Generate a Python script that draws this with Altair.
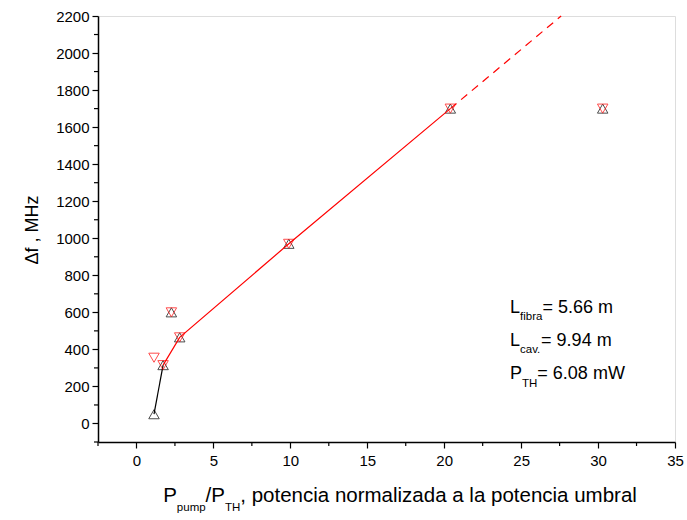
import altair as alt
import pandas as pd

# Measured points: normalised pump power vs. beat-note width
p_norm = [1.14, 1.73, 2.27, 2.81, 9.9, 20.4, 30.3]
df_up = [50, 315, 600, 465, 970, 1700, 1700]      # open black triangles
df_down = [355, 315, 600, 465, 970, 1700, 1700]   # open red triangles

# Connecting lines
black_x = [1.14, 1.73]
black_y = [50, 315]
red_x = [1.73, 2.81, 9.9, 20.4]
red_y = [315, 465, 970, 1700]
trend_x = [20.4, 27.6]
trend_y = [1700, 2200]

x_major = [0, 5, 10, 15, 20, 25, 30, 35]
x_minor = [-2.5, 2.5, 7.5, 12.5, 17.5, 22.5, 27.5, 32.5]
y_major = list(range(0, 2201, 200))
y_minor = [-100] + list(range(100, 2200, 200))

W, H = 577, 426
FONT = "Liberation Sans"

xs = alt.Scale(domain=[-2.5, 35], nice=False, zero=False)
ys = alt.Scale(domain=[-100, 2200], nice=False, zero=False)

axis_style = dict(title=None, grid=False, tickSize=6, labelFontSize=15,
                  labelFont=FONT, labelColor="black", domainColor="black",
                  tickColor="black", domainWidth=1.5, tickWidth=1.2,
                  labelOverlap=False, format="d", labelFlush=False)
x_axis = alt.Axis(values=x_major, labelPadding=5, **axis_style)
y_axis = alt.Axis(values=y_major, labelPadding=3, **axis_style)


def X(field):
    return alt.X(field, type="quantitative", scale=xs, axis=x_axis)


def Y(field):
    return alt.Y(field, type="quantitative", scale=ys, axis=y_axis)


pts = pd.DataFrame({"x": p_norm, "up": df_up, "down": df_down})
base = alt.Chart(pts)

up_pts = base.mark_point(shape="triangle-up", size=110, color="black",
                         strokeWidth=1, filled=False).encode(x=X("x"), y=Y("up"))

down_pts = base.mark_point(shape="triangle-down", size=110, color="#ff0000",
                           strokeWidth=1, filled=False).encode(x=X("x"), y=Y("down"))

black_line = alt.Chart(pd.DataFrame({"x": black_x, "y": black_y})).mark_line(
    color="black", strokeWidth=1.2).encode(x=X("x"), y=Y("y"))

red_line = alt.Chart(pd.DataFrame({"x": red_x, "y": red_y})).mark_line(
    color="#ff0000", strokeWidth=1.2).encode(x=X("x"), y=Y("y"))

trend_line = alt.Chart(pd.DataFrame({"x": trend_x, "y": trend_y})).mark_line(
    color="#ff0000", strokeWidth=1.2, strokeDash=[8, 6]).encode(x=X("x"), y=Y("y"))

# Minor ticks drawn outward from the axes
xminor = alt.Chart(pd.DataFrame({"v": x_minor})).mark_rule(
    color="black", strokeWidth=1.2).encode(
    x=X("v"), y=alt.value(H), y2=alt.value(H + 4))
yminor = alt.Chart(pd.DataFrame({"v": y_minor})).mark_rule(
    color="black", strokeWidth=1.2).encode(
    y=Y("v"), x=alt.value(0), x2=alt.value(-4))

one = pd.DataFrame({"k": [0]})


def txt(s, x, y, size, align="left", angle=0):
    return alt.Chart(one).mark_text(
        text=s, align=align, baseline="alphabetic", fontSize=size,
        font=FONT, color="black", angle=angle).encode(
        x=alt.value(x), y=alt.value(y))


def em(s):
    w = {"P": .667, "L": .556, "T": .611, "H": .722, "/": .278, ",": .278,
         " ": .278, "=": .584, ".": .278, "m": .833, "W": .944, "i": .222,
         "l": .222, "r": .333, "t": .278, "f": .278, "c": .5, "z": .5,
         "v": .5}
    return sum(w.get(ch, .556) for ch in s)


layers = [up_pts, xminor, yminor, black_line, red_line, trend_line, down_pts]

# x-axis title with subscripts
MS, SS = 20.5, 11.5
pieces = [("P", MS, 0), ("pump", SS, 9), ("/P", MS, 0), ("TH", SS, 9),
          (", potencia normalizada a la potencia umbral", MS, 0)]
total = sum(em(s) * f for s, f, _ in pieces)
cx = 302 - total / 2
base_y = 486
for s, f, dy in pieces:
    layers.append(txt(s, cx, base_y + dy, f))
    cx += em(s) * f

# y-axis title
layers.append(txt("\u0394f , MHz", -60, H / 2 + 1, 18, align="center", angle=270))

# parameter annotation
ann = [
    [("L", 18, 0), ("fibra", SS, 7), ("= 5.66 m", 18, 0)],
    [("L", 18, 0), ("cav.", SS, 7), ("= 9.94 m", 18, 0)],
    [("P", 18, 0), ("TH", SS, 8), ("= 6.08 mW", 18, 0)],
]
for i, row in enumerate(ann):
    ax = 412
    ay = 297 + i * 33
    for s, f, dy in row:
        layers.append(txt(s, ax, ay + dy, f))
        ax += em(s) * f

chart = alt.layer(*layers).properties(
    width=W, height=H,
    autosize=alt.AutoSizeParams(type="none"),
    padding={"left": 98, "top": 16, "right": 12, "bottom": 78},
).configure_view(stroke="black", strokeWidth=1.5).configure(background="white")

chart.save("out.html", embed_options={"renderer": "svg", "actions": False})
